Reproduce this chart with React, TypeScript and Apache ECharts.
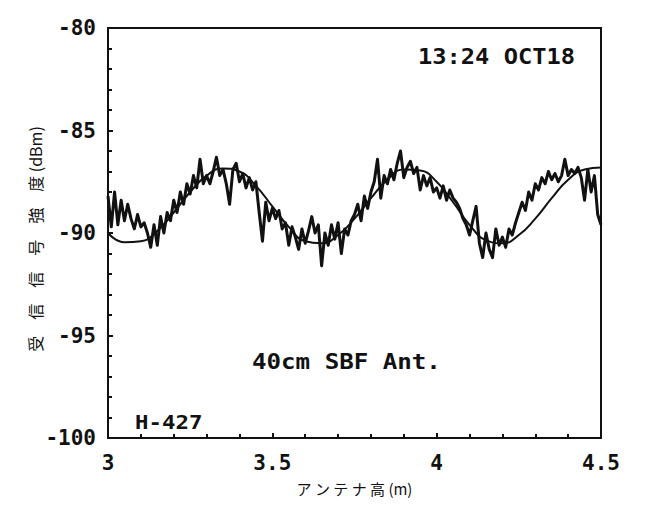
import React, { useEffect, useRef } from "react";
import * as echarts from "echarts";

// x positions (antenna height, m)
const smoothX = [
  3.0, 3.05, 3.1, 3.15, 3.2, 3.25, 3.3, 3.35, 3.4, 3.45, 3.5, 3.55, 3.6, 3.65, 3.7, 3.75,
  3.8, 3.85, 3.9, 3.95, 4.0, 4.05, 4.1, 4.15, 4.2, 4.25, 4.3, 4.35, 4.4, 4.45, 4.5,
];
const smoothY = [
  -90.0, -90.45, -90.4, -89.9, -89.0, -88.0, -87.2, -86.85, -87.0, -87.7, -88.7, -89.7,
  -90.4, -90.5, -90.1, -89.3, -88.3, -87.4, -86.9, -86.95, -87.5, -88.5, -89.6, -90.35,
  -90.5, -90.1, -89.3, -88.3, -87.4, -86.9, -86.8,
];

// measured signal, sampled every 0.01 m from 3.00 to 4.50
const measuredStart = 3.0;
const measuredStep = 0.01;
const measuredY = [
  -88.2, -89.7, -88.0, -89.6, -88.4, -89.4, -88.6, -89.3, -89.8, -89.1,
  -89.7, -89.5, -90.0, -90.7, -89.6, -90.6, -89.2, -90.0, -89.0, -89.4,
  -88.4, -89.0, -88.0, -88.6, -87.6, -88.1, -87.2, -87.8, -86.4, -87.6,
  -87.2, -87.6, -87.0, -86.3, -87.2, -86.9, -87.6, -88.6, -86.9, -86.6,
  -87.5, -87.1, -87.8, -87.3, -87.9, -87.5, -89.0, -90.4, -88.5, -89.4,
  -88.8, -89.3, -88.9, -89.8, -89.5, -90.6, -89.7, -90.2, -90.8, -89.8,
  -90.5, -89.9, -89.2, -90.0, -89.6, -91.6, -90.0, -90.6, -89.6, -90.3,
  -89.5, -91.0, -89.8, -90.1, -89.4, -89.1, -88.6, -89.4, -88.2, -88.8,
  -88.0, -87.5, -86.4, -88.3, -87.2, -87.6, -86.9, -87.4, -86.6, -86.0,
  -87.3, -86.8, -86.5, -87.1, -86.8, -87.9, -87.2, -87.7, -87.3, -88.0,
  -87.8, -88.3, -87.7, -88.4, -87.9, -88.3, -88.5, -88.8, -89.3, -89.6,
  -90.1, -89.4, -88.7, -90.5, -91.2, -90.0, -90.8, -91.2, -89.8, -90.6,
  -90.2, -90.7, -89.8, -90.1, -89.5, -89.0, -88.5, -88.9, -88.0, -88.4,
  -87.6, -87.9, -87.3, -87.6, -87.0, -87.4, -87.1, -87.5, -87.2, -86.4,
  -87.2, -86.9, -87.1, -86.8, -87.3, -88.4, -86.9, -88.0, -87.2, -89.1,
  -89.6,
];

const xMin = 3;
const xMax = 4.5;
const yMin = -100;
const yMax = -80;

const timeStamp = "13:24 OCT18";
const antennaLabel = "40cm SBF Ant.";
const siteLabel = "H-427";
const xName = "ア ン テ ナ 高 (m)";
const yName = "受　信　信　号　強　度 (dBm)";

const MONO = "'DejaVu Sans Mono', monospace";

export default function App() {
  const ref = useRef<HTMLDivElement>(null);
  useEffect(() => {
    if (!ref.current) return;
    const chart = echarts.init(ref.current, undefined, { renderer: "svg" });
    const measured = measuredY.map((v, i) => [
      +(measuredStart + i * measuredStep).toFixed(2),
      v,
    ]);
    const smooth = smoothX.map((x, i) => [x, smoothY[i]]);
    chart.setOption({
      animation: false,
      backgroundColor: "#fff",
      grid: {
        left: 100,
        right: 55,
        top: 20,
        bottom: 68,
        show: true,
        borderColor: "#111",
        borderWidth: 2,
      },
      xAxis: {
        type: "value",
        min: xMin,
        max: xMax,
        interval: 0.5,
        name: xName,
        nameLocation: "middle",
        nameGap: 43,
        nameTextStyle: {
          fontFamily: "'Noto Sans CJK JP'",
          fontSize: 15,
          color: "#111",
        },
        axisLine: { show: true, lineStyle: { color: "#111", width: 2 } },
        axisTick: { show: true, inside: true, length: 5, lineStyle: { color: "#111", width: 2 } },
        minorTick: { show: true, splitNumber: 5, length: 4, lineStyle: { color: "#111", width: 2 } },
        splitLine: { show: false },
        axisLabel: {
          margin: 14,
          fontFamily: MONO,
          fontWeight: "bold",
          fontSize: 21,
          color: "#111",
        },
      },
      yAxis: {
        type: "value",
        min: yMin,
        max: yMax,
        interval: 5,
        axisLine: { show: true, lineStyle: { color: "#111", width: 2 } },
        axisTick: { show: true, inside: true, length: 5, lineStyle: { color: "#111", width: 2 } },
        minorTick: { show: true, splitNumber: 5, length: 4, lineStyle: { color: "#111", width: 2 } },
        splitLine: { show: false },
        axisLabel: {
          margin: 12,
          fontFamily: MONO,
          fontWeight: "bold",
          fontSize: 21,
          color: "#111",
        },
      },
      series: [
        {
          type: "line",
          data: smooth,
          smooth: 0.5,
          showSymbol: false,
          lineStyle: { color: "#111", width: 2 },
          z: 2,
        },
        {
          type: "line",
          data: measured,
          showSymbol: false,
          lineStyle: { color: "#111", width: 3, join: "round" },
          z: 3,
        },
      ],
      graphic: [
        {
          type: "text",
          x: 27,
          y: 231,
          rotation: Math.PI / 2,
          style: {
            text: yName,
            fontFamily: "'Noto Sans CJK JP'",
            fontSize: 16,
            fill: "#111",
            align: "center",
            verticalAlign: "middle",
          },
        },
        {
          type: "text",
          left: 410,
          top: 38,
          scaleX: 1.13,
          style: {
            text: timeStamp,
            fontFamily: MONO,
            fontWeight: "bold",
            fontSize: 21,
            fill: "#111",
          },
        },
        {
          type: "text",
          left: 244,
          top: 343,
          scaleX: 1.15,
          style: {
            text: antennaLabel,
            fontFamily: MONO,
            fontWeight: "bold",
            fontSize: 21,
            fill: "#111",
          },
        },
        {
          type: "text",
          left: 127,
          top: 404,
          scaleX: 1.12,
          style: {
            text: siteLabel,
            fontFamily: MONO,
            fontWeight: "bold",
            fontSize: 20,
            fill: "#111",
          },
        },
      ],
    });
    return () => chart.dispose();
  }, []);
  return <div ref={ref} style={{ width: 648, height: 498 }} />;
}
